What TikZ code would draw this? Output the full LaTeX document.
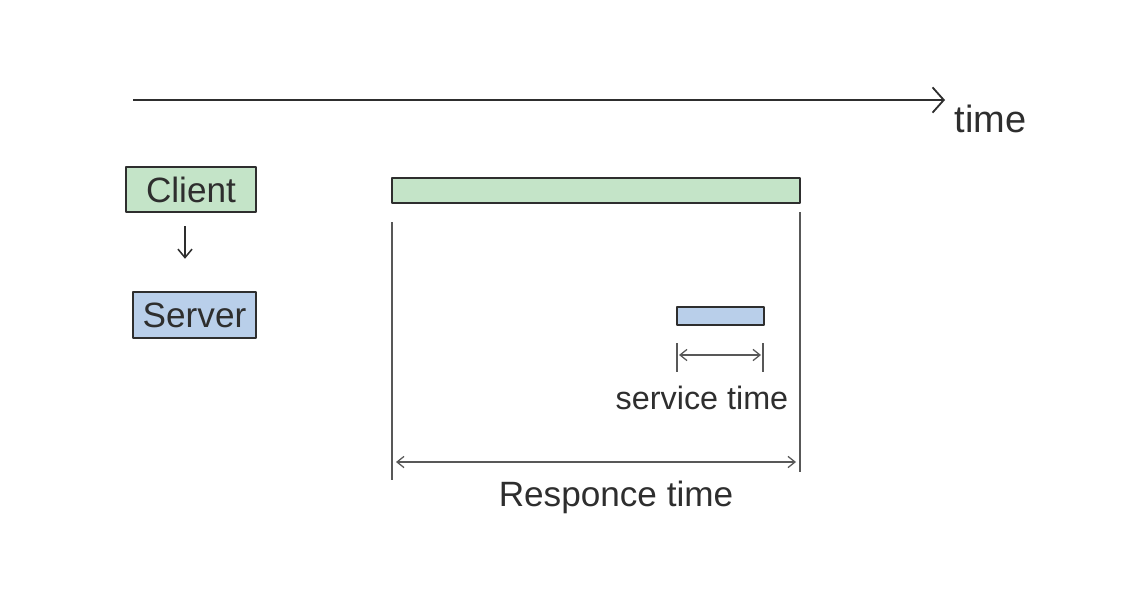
\documentclass[tikz,border=0pt]{standalone}
\usepackage{fontspec}
\setmainfont{Liberation Sans}
\usetikzlibrary{arrows.meta, positioning}
\definecolor{clientgreen}{HTML}{C4E4C8}
\definecolor{serverblue}{HTML}{B9CFEA}
\definecolor{ink}{HTML}{2E2E2E}

\tikzset{
  label text/.style={text=ink, font=\fontsize{25}{30}\selectfont},
  box/.style={draw=ink, line width=1.7pt, inner sep=0pt, label text},
  bar/.style={draw=ink, line width=1.6pt},
  thin line/.style={draw=ink!80, line width=0.9pt},
  span/.style={thin line, {Straight Barb[length=5pt,width=8pt]}-{Straight Barb[length=5pt,width=8pt]}}
}

\begin{document}
\begin{tikzpicture}[x=0.025cm, y=-0.025cm, line join=round]
\useasboundingbox (0,0) rectangle (1132,599);
% time axis
\coordinate (t0) at (133,100);
\coordinate (t1) at (945,100);
\draw[ink, line width=1.3pt, -{Straight Barb[length=8pt,width=18pt,line width=1.3pt]}] (t0) -- (t1);
\node[label text, anchor=west, font=\fontsize{27}{32}\selectfont] (timelbl) at (950,119) {time};
% legend: Client -> Server
\node[box, fill=clientgreen, minimum width=3.25cm, minimum height=1.125cm] (client) at (191,189.5) {Client};
\node[box, fill=serverblue, minimum width=3.075cm, minimum height=1.15cm] (server) at (194.5,315) {Server};
\draw[ink, line width=1.1pt, -{Straight Barb[length=6pt,width=10pt]}, shorten <=0.32cm, shorten >=0.8cm]
  ([xshift=-0.15cm]client.south) -- ([xshift=-0.15cm]client.south |- server.north);
% client bar and response span
\draw[bar, fill=clientgreen] (392,178) rectangle (800,203);
\coordinate (r0top) at (392,222);
\coordinate (r0bot) at (392,480);
\coordinate (r1top) at (800,212);
\coordinate (r1bot) at (800,472);
\draw[thin line] (r0top) -- (r0bot);
\draw[thin line] (r1top) -- (r1bot);
\coordinate (ra) at (396,462);
\coordinate (rb) at (796,462);
\draw[span] (ra) -- (rb);
\node[label text] (resplbl) at (616,497) {Responce time};
% server bar and service span
\draw[bar, fill=serverblue] (677,307) rectangle (764,325);
\coordinate (s0top) at (677,343);
\coordinate (s0bot) at (677,372);
\coordinate (s1top) at (763,343);
\coordinate (s1bot) at (763,372);
\draw[thin line] (s0top) -- (s0bot);
\draw[thin line] (s1top) -- (s1bot);
\coordinate (sa) at (679,355);
\coordinate (sb) at (761,355);
\draw[span] (sa) -- (sb);
\node[label text, font=\fontsize{23}{28}\selectfont] (servlbl) at (702,398) {service time};
\end{tikzpicture}
\end{document}
